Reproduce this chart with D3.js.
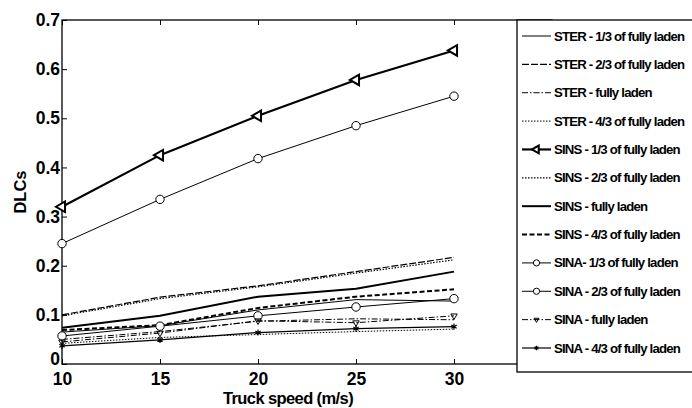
<!DOCTYPE html>
<html>
<head>
<meta charset="utf-8">
<script src="https://cdn.jsdelivr.net/npm/d3@7"></script>
<style>
body{margin:0;background:#fff;}
svg text{font-family:"Liberation Sans",Arial,sans-serif;}
</style>
</head>
<body>
<div id="canvas"></div>
<script>
// truck speeds (m/s)
var speeds = [10, 15, 20, 25, 30];

// DLC values
var sterOneThird   = [0.065, 0.078, 0.110, 0.131, 0.128];
var sterTwoThird   = [0.100, 0.136, 0.159, 0.188, 0.217];
var sterFull       = [0.050, 0.066, 0.087, 0.092, 0.090];
var sterFourThird  = [0.042, 0.054, 0.060, 0.066, 0.071];
var sinsOneThird   = [0.320, 0.425, 0.505, 0.578, 0.638];
var sinsTwoThird   = [0.098, 0.133, 0.157, 0.185, 0.212];
var sinsFull       = [0.074, 0.098, 0.137, 0.153, 0.188];
var sinsFourThird  = [0.069, 0.079, 0.114, 0.137, 0.152];
var sinaOneThird   = [0.057, 0.077, 0.098, 0.116, 0.133];
var sinaTwoThird   = [0.245, 0.335, 0.418, 0.485, 0.545];
var sinaFull       = [0.045, 0.063, 0.088, 0.084, 0.098];
var sinaFourThird  = [0.037, 0.049, 0.064, 0.072, 0.076];

var yTicks = [0, 0.1, 0.2, 0.3, 0.4, 0.5, 0.6, 0.7];
var xTicks = [10, 15, 20, 25, 30];

var legendLabels = [
  'STER - 1/3 of fully laden','STER - 2/3 of fully laden','STER - fully laden','STER - 4/3 of fully laden',
  'SINS - 1/3 of fully laden','SINS - 2/3 of fully laden','SINS -  fully laden','SINS - 4/3 of fully laden',
  'SINA- 1/3 of fully laden','SINA - 2/3 of fully laden','SINA - fully laden','SINA - 4/3 of fully laden'
];

// style per series: width, dash, marker
var series = [
  {v:sterOneThird,  w:1,   dash:null,         mk:null},
  {v:sterTwoThird,  w:1.2, dash:'7,2',        mk:null},
  {v:sterFull,      w:1,   dash:'6,2,1.5,2',  mk:null},
  {v:sterFourThird, w:1,   dash:'1.5,1.5',    mk:null},
  {v:sinsOneThird,  w:2.2, dash:null,         mk:'tri'},
  {v:sinsTwoThird,  w:1.2, dash:'1.5,1.5',    mk:null},
  {v:sinsFull,      w:2,   dash:null,         mk:null},
  {v:sinsFourThird, w:2,   dash:'5,2.5',      mk:null},
  {v:sinaOneThird,  w:1,   dash:null,         mk:'circ'},
  {v:sinaTwoThird,  w:1,   dash:null,         mk:'circ'},
  {v:sinaFull,      w:1,   dash:'6,2,1.5,2',  mk:'vee'},
  {v:sinaFourThird, w:1.2, dash:null,         mk:'star'}
];

var m = {t:20, r:140, b:44, l:62},
    W = 692, H = 408,
    w = 552 - m.l, h = 364 - m.t;

var svg = d3.select('#canvas').append('svg')
    .attr('width', W).attr('height', H);

var plot = svg.append('g').attr('transform','translate('+m.l+','+m.t+')');

var x = d3.scaleLinear().domain([10, 35]).range([0, w]);
var y = d3.scaleLinear().domain([0, 0.7]).range([h, 0]);

// axes box
plot.append('rect').attr('width', w).attr('height', h)
    .attr('fill','none').attr('stroke','#000').attr('stroke-width',1.3);

plot.append('g').attr('transform','translate(0,'+h+')')
    .call(d3.axisBottom(x).tickValues(xTicks).tickSizeInner(-5).tickSizeOuter(0).tickPadding(9))
    .call(function(g){ g.select('.domain').remove(); });
plot.append('g')
    .call(d3.axisTop(x).tickValues(xTicks).tickSizeInner(-5).tickSizeOuter(0).tickFormat(''))
    .call(function(g){ g.select('.domain').remove(); });
var yAx = plot.append('g')
    .call(d3.axisLeft(y).tickValues(yTicks).tickSizeInner(-5).tickSizeOuter(0).tickPadding(2).tickFormat(d3.format('.1~f')))
    .call(function(g){ g.select('.domain').remove(); });
// lift the "0" a little so it sits just above the "10"
yAx.selectAll('.tick text').filter(function(d){ return d === 0; }).attr('y', -5);

plot.selectAll('.tick text')
    .attr('font-size', 17.5).attr('font-weight','bold').attr('fill','#000');
plot.selectAll('.tick line').attr('stroke','#000').attr('stroke-width',1);

var line = d3.line()
    .x(function(d, i){ return x(speeds[i]); })
    .y(function(d){ return y(d); });

function drawMarker(g, type, cx, cy, k){
    k = k || 1;
    if(type == 'tri'){
        g.append('path').attr('d', d3.symbol().type(d3.symbolTriangle).size(48*k)())
            .attr('transform','translate('+cx+','+cy+') rotate(-90)')
            .attr('fill','#fff').attr('stroke','#000').attr('stroke-width',2);
    } else if(type == 'circ'){
        g.append('circle').attr('cx',cx).attr('cy',cy).attr('r',4.2*Math.sqrt(k))
            .attr('fill','#fff').attr('stroke','#000').attr('stroke-width',1);
    } else if(type == 'vee'){
        g.append('path').attr('d', d3.symbol().type(d3.symbolTriangle).size(18*k)())
            .attr('transform','translate('+cx+','+cy+') rotate(180)')
            .attr('fill','none').attr('stroke','#000').attr('stroke-width',1);
    } else if(type == 'star'){
        g.append('path').attr('d', d3.symbol().type(d3.symbolAsterisk).size(26*k)())
            .attr('transform','translate('+cx+','+cy+')')
            .attr('fill','none').attr('stroke','#000').attr('stroke-width',1.2);
    }
}

series.forEach(function(s){
    var g = plot.append('g');
    g.append('path').datum(s.v).attr('d', line)
        .attr('fill','none').attr('stroke','#000')
        .attr('stroke-width', s.w)
        .attr('stroke-dasharray', s.dash);
    if(s.mk){
        s.v.forEach(function(d, i){ drawMarker(g, s.mk, x(speeds[i]), y(d)); });
    }
});

// axis titles
svg.append('text').attr('x', 288).attr('y', 404).attr('text-anchor','middle')
    .attr('font-size', 16.5).attr('font-weight','bold').attr('letter-spacing','-0.6')
    .text('Truck speed (m/s)');
svg.append('text').attr('transform','translate(26,192) rotate(-90)').attr('text-anchor','middle')
    .attr('font-size', 16.5).attr('font-weight','bold')
    .text('DLCs');

// legend
var lg = svg.append('g').attr('transform','translate(517,20)');
lg.append('rect').attr('width', 200).attr('height', 352)
    .attr('fill','#fff').attr('stroke','#000').attr('stroke-width',1.3);

var ly = d3.scaleLinear().domain([0, 11]).range([16, 328]);

series.forEach(function(s, i){
    var row = lg.append('g').attr('transform','translate(0,'+ly(i)+')');
    row.append('line').attr('x1',5).attr('x2',34).attr('y1',0).attr('y2',0)
        .attr('stroke','#000').attr('stroke-width', s.w)
        .attr('stroke-dasharray', s.dash);
    if(s.mk) drawMarker(row, s.mk, 19.5, 0, 0.55);
    row.append('text').attr('x', 37).attr('y', 4.5)
        .attr('font-size', 13.2).attr('font-weight','bold').attr('letter-spacing','-0.8')
        .text(legendLabels[i]);
});
</script>
</body>
</html>
